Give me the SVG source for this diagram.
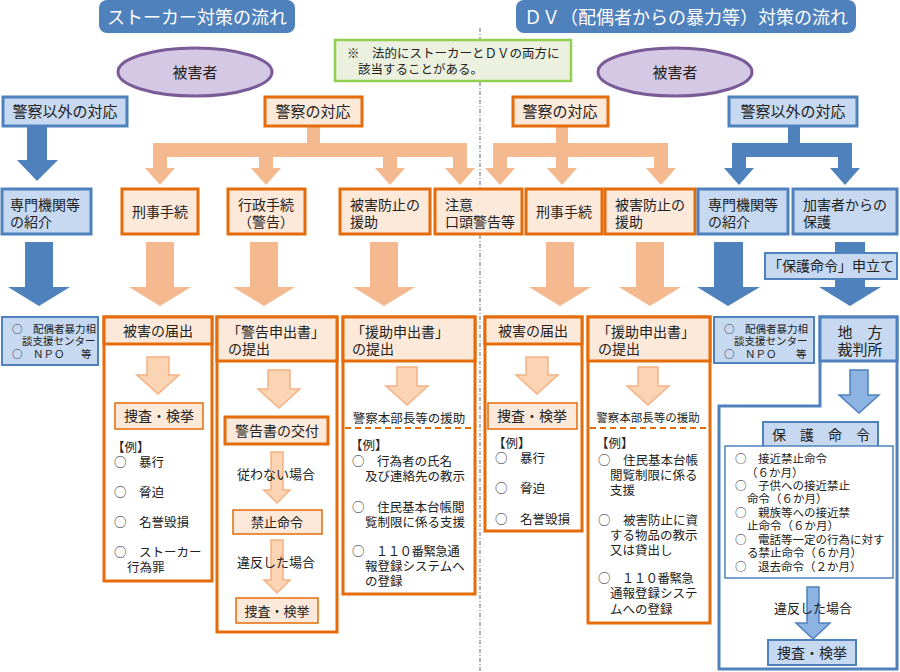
<svg xmlns="http://www.w3.org/2000/svg" width="900" height="672" viewBox="0 0 900 672">
<style>
text{font-family:"Noto Sans CJK JP","Noto Sans CJK SC",sans-serif;fill:#222}
.t{font-size:18px;fill:#fff;text-anchor:middle}
.b15{font-size:15px}
.b14{font-size:14px}
.b13{font-size:13px}
.li{font-size:12.5px}
.sm{font-size:11.5px}
.xs{font-size:10.5px}
.c{text-anchor:middle}
.ob{fill:#fde9d9;stroke:#e46c0a;stroke-width:3}
.ow{fill:#fff;stroke:#e46c0a;stroke-width:3}
.os{fill:#fde9d9;stroke:#e46c0a;stroke-width:1.5}
.bb{fill:#c6d9f1;stroke:#4f81bd;stroke-width:3}
.bs{fill:#c6d9f1;stroke:#4f81bd;stroke-width:2}
.oa{fill:#f4b98e}
.ba{fill:#4f81bd}
.oi{fill:#fbd4b4;stroke:#f4b183;stroke-width:1.5}
.bi{fill:#8db3e2;stroke:#4f81bd;stroke-width:1.5}
</style>

<!-- divider -->
<line x1="480" y1="28" x2="480" y2="672" stroke="#999" stroke-width="1.5" stroke-dasharray="4 2 1 2"/>

<!-- titles -->
<g id="title-stalker">
<rect x="99" y="0" width="196" height="33" rx="8" fill="#4f81bd"/>
<text class="t" x="197" y="24">ストーカー対策の流れ</text>
</g>
<g id="title-dv">
<rect x="516" y="0" width="340" height="33" rx="8" fill="#4f81bd"/>
<text class="t" x="686" y="24">ＤＶ（配偶者からの暴力等）対策の流れ</text>
</g>

<g id="note">
<rect x="335" y="40" width="236" height="41" fill="#ebf1de" stroke="#92d050" stroke-width="2.5"/>
<text class="li" x="347" y="58">※　法的にストーカーとＤＶの両方に</text>
<text class="li" x="358" y="74">該当することがある。</text>
</g>

<!-- connectors -->
<g id="connectors">
<polygon class="ba" points="27,126 47,126 47,160 58,160 37,181 17,160 27,160"/>
<rect class="oa" x="307" y="126" width="13" height="31"/>
<rect class="oa" x="153" y="143" width="314" height="14"/>
<polygon class="oa" points="153,143 167,143 167,168 175,168 160,185 145,168 153,168"/>
<polygon class="oa" points="259,143 273,143 273,168 281,168 266,185 251,168 259,168"/>
<polygon class="oa" points="383,143 397,143 397,168 405,168 390,185 375,168 383,168"/>
<polygon class="oa" points="453,143 467,143 467,168 475,168 460,185 445,168 453,168"/>
<rect class="oa" x="493" y="143" width="175" height="14"/>
<polygon class="oa" points="556,126 568,126 568,168 577,168 562,185 547,168 556,168"/>
<polygon class="oa" points="493,143 507,143 507,168 515,168 500,185 485,168 493,168"/>
<polygon class="oa" points="654,143 668,143 668,168 676,168 661,185 646,168 654,168"/>
<rect class="ba" x="788" y="126" width="12" height="31"/>
<rect class="ba" x="732" y="143" width="120" height="14"/>
<polygon class="ba" points="732,143 746,143 746,168 754,168 739,185 724,168 732,168"/>
<polygon class="ba" points="838,143 852,143 852,168 860,168 845,185 830,168 838,168"/>
<polygon class="ba" points="25,242 53,242 53,287 70,287 39,306 8,287 25,287"/>
<polygon class="oa" points="146,242 174,242 174,287 191,287 160,306 129,287 146,287"/>
<polygon class="oa" points="250,242 278,242 278,287 295,287 264,306 233,287 250,287"/>
<polygon class="oa" points="370,242 398,242 398,287 415,287 384,306 353,287 370,287"/>
<polygon class="oa" points="546,242 574,242 574,287 591,287 560,306 529,287 546,287"/>
<polygon class="oa" points="636,242 664,242 664,287 681,287 650,306 619,287 636,287"/>
<polygon class="ba" points="714,242 743,242 743,287 760,287 728,306 697,287 714,287"/>
<polygon class="ba" points="835,242 865,242 865,287 881,287 850,306 819,287 835,287"/>
</g>

<!-- victims -->
<g id="victim-left">
<ellipse cx="195" cy="72" rx="77" ry="24" fill="#d5c8e4" stroke="#7b5a98" stroke-width="3"/>
<text class="b15 c" x="195" y="78">被害者</text>
</g>
<g id="victim-right">
<ellipse cx="675" cy="72" rx="77" ry="24" fill="#d5c8e4" stroke="#7b5a98" stroke-width="3"/>
<text class="b15 c" x="675" y="78">被害者</text>
</g>

<!-- top row -->
<g id="l-nonpolice"><rect class="bb" x="3" y="97" width="124" height="29"/><text class="b15 c" x="65" y="117">警察以外の対応</text></g>
<g id="l-police"><rect class="ob" x="265" y="97" width="97" height="29"/><text class="b15 c" x="313" y="117">警察の対応</text></g>
<g id="r-police"><rect class="ob" x="513" y="97" width="95" height="29"/><text class="b15 c" x="560" y="117">警察の対応</text></g>
<g id="r-nonpolice"><rect class="bb" x="729" y="97" width="128" height="29"/><text class="b15 c" x="793" y="117">警察以外の対応</text></g>

<!-- second row -->
<g id="l-referral"><rect class="bb" x="2" y="189" width="89" height="45"/><text class="b14" x="10" y="210">専門機関等</text><text class="b14" x="10" y="227">の紹介</text></g>
<g id="l-criminal"><rect class="ob" x="122" y="189" width="76" height="45"/><text class="b14 c" x="160" y="217">刑事手続</text></g>
<g id="l-admin"><rect class="ob" x="228" y="189" width="77" height="45"/><text class="b14 c" x="266" y="210">行政手続</text><text class="b14 c" x="266" y="227">（警告）</text></g>
<g id="l-assist"><rect class="ob" x="340" y="189" width="90" height="45"/><text class="b14" x="350" y="210">被害防止の</text><text class="b14" x="350" y="227">援助</text></g>
<g id="l-warning"><rect class="ob" x="435" y="189" width="87" height="45"/><text class="b14" x="445" y="210">注意</text><text class="b14" x="445" y="227">口頭警告等</text></g>
<g id="r-criminal"><rect class="ob" x="526" y="189" width="76" height="45"/><text class="b14 c" x="564" y="217">刑事手続</text></g>
<g id="r-assist"><rect class="ob" x="605" y="189" width="90" height="45"/><text class="b14" x="615" y="210">被害防止の</text><text class="b14" x="615" y="227">援助</text></g>
<g id="r-referral"><rect class="bb" x="698" y="189" width="90" height="45"/><text class="b14" x="708" y="210">専門機関等</text><text class="b14" x="708" y="227">の紹介</text></g>
<g id="r-protect"><rect class="bb" x="793" y="189" width="104" height="45"/><text class="b14" x="803" y="210">加害者からの</text><text class="b14" x="803" y="227">保護</text></g>

<g id="r-petition"><rect class="bs" x="765" y="253" width="132" height="26"/><text class="b14 c" x="831" y="271">「保護命令」申立て</text></g>

<!-- bottom left: centers -->
<g id="l-centers">
<rect class="bs" x="2" y="317" width="96" height="48" stroke-width="2.5"/>
<text class="xs" x="12" y="333">○　配偶者暴力相</text>
<text class="xs" x="22" y="345">談支援センター</text>
<text class="xs" x="12" y="358">○　ＮＰＯ<tspan x="81">等</tspan></text>
</g>

<!-- 被害の届出 left -->
<g id="l-report">
<rect class="ow" x="104" y="317" width="108" height="264"/>
<rect class="ob" x="104" y="317" width="108" height="27"/>
<text class="b14 c" x="158" y="336">被害の届出</text>
<polygon class="oi" points="147,357 169,357 169,375 179,375 158,394 137,375 147,375"/>
<rect class="os" x="115" y="403" width="88" height="26"/>
<text class="b14 c" x="159" y="421">捜査・検挙</text>
<text class="li" x="112" y="452">【例】</text>
<text class="li" x="114" y="467">○　暴行</text>
<text class="li" x="114" y="497">○　脅迫</text>
<text class="li" x="114" y="527">○　名誉毀損</text>
<text class="li" x="114" y="557">○　ストーカー</text>
<text class="li" x="127" y="572">行為罪</text>
</g>

<!-- 警告申出書 -->
<g id="l-warnreq">
<rect class="ow" x="217" y="317" width="120" height="315"/>
<rect class="ob" x="217" y="317" width="120" height="44"/>
<text class="b14" x="227" y="337">「警告申出書」</text>
<text class="b14" x="228" y="354">の提出</text>
<polygon class="oi" points="268,370 290,370 290,389 300,389 279,408 258,389 268,389"/>
<rect class="ob" x="225" y="417" width="103" height="27" stroke-width="2.5"/>
<text class="b14 c" x="277" y="436">警告書の交付</text>
<polygon class="oi" points="271,452 283,452 283,490 290,490 277,503 264,490 271,490"/>
<text class="b13 c" x="276" y="479">従わない場合</text>
<rect class="os" x="233" y="510" width="89" height="24"/>
<text class="b13 c" x="277" y="527">禁止命令</text>
<polygon class="oi" points="271,540 283,540 283,580 290,580 277,593 264,580 271,580"/>
<text class="b13 c" x="276" y="567">違反した場合</text>
<rect class="os" x="236" y="598" width="82" height="25"/>
<text class="b13 c" x="277" y="616">捜査・検挙</text>
</g>

<!-- 援助申出書 left -->
<g id="l-assistreq">
<rect class="ow" x="343" y="317" width="132" height="277"/>
<rect class="ob" x="343" y="317" width="132" height="44"/>
<text class="b14" x="351" y="337">「援助申出書」</text>
<text class="b14" x="352" y="354">の提出</text>
<polygon class="oi" points="397,367 417,367 417,386 428,386 407,405 386,386 397,386"/>
<text class="li c" x="409" y="423">警察本部長等の援助</text>
<line x1="345" y1="428" x2="473" y2="428" stroke="#e46c0a" stroke-width="2" stroke-dasharray="6 4"/>
<text class="li" x="350" y="450">【例】</text>
<text class="li" x="352" y="466">○　行為者の氏名</text>
<text class="li" x="365" y="481">及び連絡先の教示</text>
<text class="li" x="352" y="512">○　住民基本台帳閲</text>
<text class="li" x="365" y="527">覧制限に係る支援</text>
<text class="li" x="352" y="556" letter-spacing="-0.6">○　１１０番緊急通</text>
<text class="li" x="365" y="571">報登録システムへ</text>
<text class="li" x="365" y="586">の登録</text>
</g>

<!-- 被害の届出 right -->
<g id="r-report">
<rect class="ow" x="485" y="317" width="97" height="214"/>
<rect class="ob" x="485" y="317" width="97" height="27"/>
<text class="b14 c" x="533" y="336">被害の届出</text>
<polygon class="oi" points="526,357 548,357 548,375 558,375 537,394 516,375 526,375"/>
<rect class="os" x="488" y="403" width="89" height="26"/>
<text class="b14 c" x="532" y="421">捜査・検挙</text>
<text class="li" x="493" y="448">【例】</text>
<text class="li" x="495" y="463">○　暴行</text>
<text class="li" x="495" y="493">○　脅迫</text>
<text class="li" x="495" y="524">○　名誉毀損</text>
</g>

<!-- 援助申出書 right -->
<g id="r-assistreq">
<rect class="ow" x="588" y="317" width="122" height="306"/>
<rect class="ob" x="588" y="317" width="122" height="44"/>
<text class="b14" x="597" y="337">「援助申出書」</text>
<text class="b14" x="598" y="354">の提出</text>
<polygon class="oi" points="638,367 658,367 658,386 669,386 648,405 627,386 638,386"/>
<text class="sm c" x="648" y="422">警察本部長等の援助</text>
<line x1="590" y1="428" x2="708" y2="428" stroke="#e46c0a" stroke-width="2" stroke-dasharray="6 4"/>
<text class="li" x="596" y="448">【例】</text>
<text class="li" x="598" y="465">○　住民基本台帳</text>
<text class="li" x="610" y="480">閲覧制限に係る</text>
<text class="li" x="610" y="495">支援</text>
<text class="li" x="598" y="525">○　被害防止に資</text>
<text class="li" x="610" y="540">する物品の教示</text>
<text class="li" x="610" y="555">又は貸出し</text>
<text class="li" x="598" y="583" letter-spacing="-0.6">○　１１０番緊急</text>
<text class="li" x="610" y="598">通報登録システ</text>
<text class="li" x="610" y="614">ムへの登録</text>
</g>

<!-- right centers -->
<g id="r-centers">
<rect class="bs" x="714" y="317" width="100" height="46" stroke-width="2.5"/>
<text class="xs" x="724" y="333">○　配偶者暴力相</text>
<text class="xs" x="734" y="345">談支援センター</text>
<text class="xs" x="724" y="358">○　ＮＰＯ<tspan x="796">等</tspan></text>
</g>

<!-- 地方裁判所 -->
<g id="r-court">
<path d="M820,317 L897,317 L897,669 L719,669 L719,406 L820,406 Z" fill="#fff" stroke="#4f81bd" stroke-width="3"/>
<rect x="820" y="317" width="77" height="44" fill="#c6d9f1" stroke="#4f81bd" stroke-width="3"/>
<text class="b15 c" x="860" y="338">地　方</text>
<text class="b15 c" x="860" y="355">裁判所</text>
<polygon class="bi" points="850,370 868,370 868,395 879,395 859,413 839,395 850,395"/>
<rect class="bs" x="763" y="422" width="115" height="25"/>
<text class="b14 c" x="821" y="440">保　護　命　令</text>
<rect x="725" y="446" width="168" height="132" fill="#fff" stroke="#4f81bd" stroke-width="1.5"/>
<text class="sm" x="735" y="463">○　接近禁止命令</text>
<text class="sm" x="746" y="477">（６か月）</text>
<text class="sm" x="735" y="490">○　子供への接近禁止</text>
<text class="sm" x="747" y="503">命令（６か月）</text>
<text class="sm" x="735" y="517">○　親族等への接近禁</text>
<text class="sm" x="747" y="530">止命令（６か月）</text>
<text class="sm" x="735" y="544">○　電話等一定の行為に対す</text>
<text class="sm" x="747" y="557">る禁止命令（６か月）</text>
<text class="sm" x="735" y="571">○　退去命令（２か月）</text>
<polygon class="bi" points="807,587 819,587 819,623 830,623 813,639 796,623 807,623"/>
<text class="b13 c" x="813" y="613">違反した場合</text>
<rect class="bs" x="768" y="640" width="88" height="25"/>
<text class="b14 c" x="812" y="658">捜査・検挙</text>
</g>
</svg>
